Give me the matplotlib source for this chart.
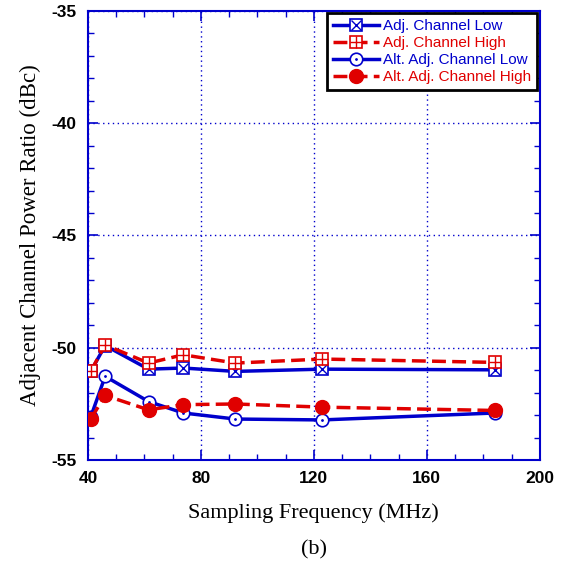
import matplotlib
matplotlib.use("Agg")
import matplotlib.pyplot as plt
from matplotlib.ticker import MultipleLocator
from matplotlib import rcParams

rcParams.update({"axes.unicode_minus": False})

freq = [40.96, 46.08, 61.44, 73.728, 92.16, 122.88, 184.32]
adj_low = [-51.05, -49.9, -50.95, -50.9, -51.05, -50.95, -50.98]
adj_high = [-51.05, -49.87, -50.68, -50.31, -50.68, -50.5, -50.65]
alt_low = [-53.08, -51.27, -52.39, -52.9, -53.17, -53.21, -52.9]
alt_high = [-53.17, -52.12, -52.76, -52.53, -52.5, -52.64, -52.79]

BLUE = "#0000cc"
RED = "#e00000"
sans = "Liberation Sans"
serif = "Liberation Serif"
dash = (0, (4, 1.8))

fig = plt.figure(figsize=(5.64, 5.66), dpi=100)
ax = fig.add_axes([0.156, 0.187, 0.801, 0.794])

ms = 9
# adj. channel low: square with x
l1, = ax.plot(freq, adj_low, color=BLUE, lw=2.5, marker="s", ms=ms, mfc="white", mec=BLUE, mew=1.2, zorder=3)
l1b, = ax.plot(freq, adj_low, ls="none", marker="x", ms=ms * 0.8, mec=BLUE, mew=1.0, zorder=3)
# adj. channel high: square with plus
l2, = ax.plot(freq, adj_high, color=RED, lw=2.5, ls=dash, marker="s", ms=ms, mfc="white", mec=RED, mew=1.2, zorder=4)
l2b, = ax.plot(freq, adj_high, ls="none", marker="+", ms=ms, mec=RED, mew=1.0, zorder=4)
# alt. adj. channel low: open circle with dot
l3, = ax.plot(freq, alt_low, color=BLUE, lw=2.5, marker="o", ms=ms, mfc="white", mec=BLUE, mew=1.2, zorder=3)
l3b, = ax.plot(freq, alt_low, ls="none", marker=".", ms=2, mec=BLUE, mfc=BLUE, zorder=3)
# alt. adj. channel high: filled circle
l4, = ax.plot(freq, alt_high, color=RED, lw=2.5, ls=dash, marker="o", ms=ms + 1, mfc=RED, mec=RED, zorder=4)

ax.set_xlim(40, 200)
ax.set_ylim(-55, -35)
ax.xaxis.set_major_locator(MultipleLocator(40))
ax.xaxis.set_minor_locator(MultipleLocator(10))
ax.yaxis.set_major_locator(MultipleLocator(5))
ax.yaxis.set_minor_locator(MultipleLocator(1))

for s in ax.spines.values():
    s.set_color(BLUE)
    s.set_linewidth(1.5)
ax.tick_params(which="both", direction="in", color=BLUE, top=True, right=True)
ax.tick_params(which="major", length=7, width=1.2, pad=8)
ax.tick_params(which="minor", length=4, width=1.0)
ax.grid(True, which="major", color=BLUE, ls=(0, (1, 2.5)), lw=1.0)

for lab in ax.get_xticklabels() + ax.get_yticklabels():
    lab.set_fontfamily(sans)
    lab.set_fontweight("bold")
    lab.set_fontsize(12.5)

ax.set_xlabel("Sampling Frequency (MHz)", fontfamily=serif, fontsize=16, labelpad=12)
ax.set_ylabel("Adjacent Channel Power Ratio (dBc)", fontfamily=serif, fontsize=16.5, labelpad=8)
fig.text(0.556, 0.02, "(b)", fontfamily=serif, fontsize=16, ha="center")

leg = ax.legend(
    [(l1, l1b), (l2, l2b), (l3, l3b), l4],
    ["Adj. Channel Low", "Adj. Channel High", "Alt. Adj. Channel Low", "Alt. Adj. Channel High"],
    loc="upper right",
    bbox_to_anchor=(1.0, 1.0),
    borderaxespad=0.15,
    prop={"family": sans, "size": 11},
    frameon=True,
    fancybox=False,
    edgecolor="black",
    framealpha=1,
    handlelength=3.0,
    handletextpad=0.3,
    labelspacing=0.2,
    borderpad=0.4,
)
leg.get_frame().set_linewidth(2)
for t, c in zip(leg.get_texts(), [BLUE, RED, BLUE, RED]):
    t.set_color(c)

fig.savefig("out.png", dpi=100)
